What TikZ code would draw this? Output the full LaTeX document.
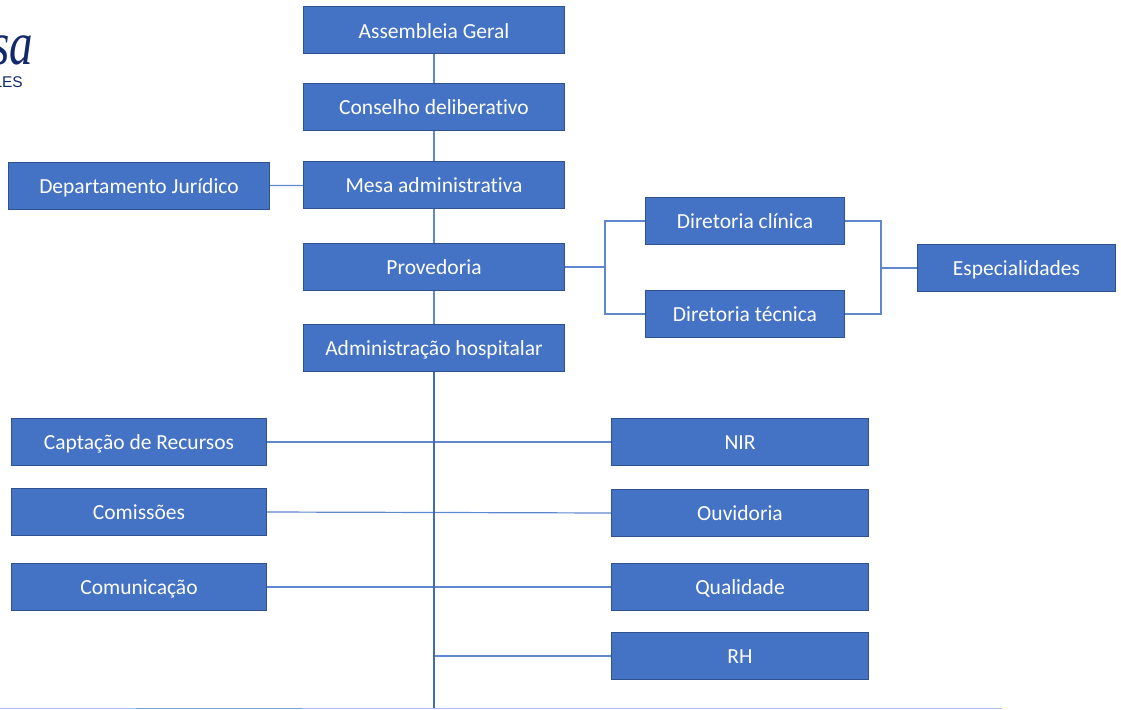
\documentclass[tikz,border=0pt]{standalone}
\usepackage{fontspec}
\setmainfont[Ligatures=NoCommon]{Carlito}
\newfontfamily\logoserif{Liberation Serif}
\newfontfamily\logosans{Liberation Sans}
\definecolor{boxblue}{HTML}{4472C4}
\definecolor{boxline}{HTML}{2F528F}
\definecolor{linkblue}{HTML}{5F87CE}
\definecolor{spineblue}{HTML}{3F6CB8}
\definecolor{rulelight}{HTML}{A9C0EA}
\definecolor{ruledark}{HTML}{7C9FDC}
\definecolor{logoblue}{HTML}{12296B}
\tikzset{
  orgbox/.style={draw=boxline,line width=1pt,fill=boxblue,text=white,inner sep=0pt,
    minimum width=261pt,minimum height=47pt,text height=16pt,text depth=1pt,
    font=\fontsize{21.5}{24}\selectfont},
  shortbox/.style={orgbox,minimum width=199pt},
  sidebox/.style={orgbox,minimum width=255pt},
  rightbox/.style={orgbox,minimum width=257pt},
  link/.style={draw=linkblue,line width=1.2pt},
}
\begin{document}
\begin{tikzpicture}[x=1pt,y=-1pt]
  \useasboundingbox (0,0) rectangle (1121,709);
  % logo
  \node[text=logoblue,font=\logoserif\itshape\fontsize{47}{47}\selectfont,anchor=base east,inner sep=0pt] (logoname) at (33,65) {\scalebox{1}[1.3]{sa}};
  \node[text=logoblue,font=\logosans\fontsize{15.5}{16}\selectfont,anchor=base east,inner sep=0pt] (logosub) at (23,87) {LES};
  % bottom rule
  \draw[rulelight,line width=1.2pt] (0,708.4) -- (1002,708.4);
  \draw[ruledark,line width=1.2pt] (136,708.4) -- (302,708.4);
  % links
  \coordinate (spineend) at (434,708);
  \coordinate (leftjoin) at (605,267);
  \coordinate (rightjoin) at (881,268);
  % centre column
  \node[orgbox] (assembleia) at (434,30.5) {Assembleia Geral};
  \node[orgbox] (conselho) at (434,107) {Conselho deliberativo};
  \node[orgbox] (mesa) at (434,185) {Mesa administrativa};
  \node[orgbox] (provedoria) at (434,267) {Provedoria};
  \node[orgbox] (adm) at (434,348) {Administração hospitalar};
  \node[orgbox] (juridico) at (139,186) {Departamento Jurídico};
  % diretorias
  \node[shortbox] (clinica) at (745,221) {Diretoria clínica};
  \node[shortbox] (tecnica) at (745,314) {Diretoria técnica};
  \node[shortbox,minimum width=198pt] (especialidades) at (1016.5,268) {Especialidades};
  % left and right of the spine
  \node[sidebox] (captacao) at (139,442) {Captação de Recursos};
  \node[sidebox] (comissoes) at (139,512) {Comissões};
  \node[sidebox] (comunicacao) at (139,587) {Comunicação};
  \node[rightbox] (nir) at (740,442) {NIR};
  \node[rightbox] (ouvidoria) at (740,513) {Ouvidoria};
  \node[rightbox] (qualidade) at (740,587) {Qualidade};
  \node[rightbox] (rh) at (740,656) {RH};
  \draw[link] (assembleia) -- (conselho);
  \draw[link] (conselho) -- (mesa);
  \draw[link] (mesa) -- (provedoria);
  \draw[link] (provedoria) -- (adm);
  \draw[link] (juridico) -- (mesa);
  \draw[link] (captacao.east) -- (nir.west);
  \draw[link] (comissoes.east) -- (ouvidoria.west);
  \draw[link] (comunicacao) -- (qualidade);
  \draw[link] (rh.west) -- (rh.west -| spineend);
  \draw[link,draw=spineblue,line width=1.3pt] (adm) -- (spineend);
  \draw[link] (provedoria) -- (leftjoin);
  \draw[link] (clinica.west) -| (leftjoin) |- (tecnica.west);
  \draw[link] (clinica.east) -| (rightjoin) |- (tecnica.east);
  \draw[link] (rightjoin) -- (especialidades);
\end{tikzpicture}
\end{document}
